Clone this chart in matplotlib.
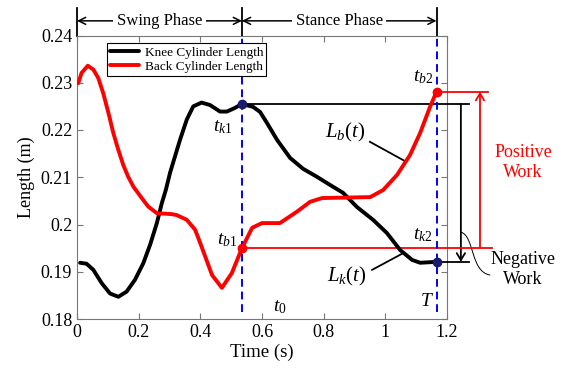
import matplotlib
matplotlib.use("Agg")
import matplotlib.pyplot as plt
from matplotlib.path import Path
from matplotlib.patches import PathPatch, FancyArrowPatch

plt.rcParams['font.family'] = ['Liberation Serif', 'DejaVu Serif']
plt.rcParams['mathtext.fontset'] = 'custom'
plt.rcParams['mathtext.rm'] = 'Liberation Serif'
plt.rcParams['mathtext.it'] = 'Liberation Serif:italic'

# Knee cylinder length (black)
knee_t = [0.010, 0.031, 0.053, 0.080, 0.107, 0.134, 0.161, 0.188, 0.215, 0.237,
          0.259, 0.275, 0.288, 0.302, 0.334, 0.356, 0.377, 0.404, 0.431, 0.464,
          0.486, 0.510, 0.535, 0.571, 0.594, 0.616, 0.649, 0.691, 0.733, 0.778,
          0.830, 0.863, 0.908, 0.960, 1.005, 1.048, 1.087, 1.113, 1.166]
knee_L = [0.1919, 0.1917, 0.1904, 0.1876, 0.1854, 0.1847, 0.1858, 0.1883, 0.1918, 0.1957,
          0.2003, 0.2045, 0.2073, 0.2110, 0.2179, 0.2222, 0.2250, 0.2258, 0.2253, 0.2239,
          0.2239, 0.2246, 0.2255, 0.2249, 0.2238, 0.2215, 0.2179, 0.2141, 0.2118, 0.2101,
          0.2080, 0.2067, 0.2037, 0.2010, 0.1982, 0.1946, 0.1925, 0.1919, 0.1921]

# Back cylinder length (red)
back_t = [0.004, 0.015, 0.035, 0.053, 0.069, 0.085, 0.102, 0.118, 0.134, 0.150,
          0.166, 0.183, 0.210, 0.231, 0.259, 0.307, 0.323, 0.356, 0.383, 0.399,
          0.438, 0.470, 0.502, 0.535, 0.568, 0.600, 0.658, 0.713, 0.756, 0.795,
          0.951, 0.993, 1.038, 1.080, 1.113, 1.145, 1.166]
back_L = [0.2299, 0.2321, 0.2336, 0.2328, 0.2310, 0.2278, 0.2236, 0.2193, 0.2158, 0.2126,
          0.2101, 0.2080, 0.2056, 0.2038, 0.2024, 0.2022, 0.2020, 0.2010, 0.1989, 0.1962,
          0.1893, 0.1866, 0.1897, 0.1950, 0.1993, 0.2003, 0.2003, 0.2027, 0.2048, 0.2056,
          0.2058, 0.2073, 0.2105, 0.2147, 0.2194, 0.2249, 0.2281]

t_switch = 0.535
t_end = 1.166
knee_hi, knee_lo = 0.2255, 0.1921
back_hi, back_lo = 0.2281, 0.1951

xticks = [0, 0.2, 0.4, 0.6, 0.8, 1.0, 1.2]
xticklabels = ['0', '0.2', '0.4', '0.6', '0.8', '1', '1.2']
yticks = [0.18, 0.19, 0.20, 0.21, 0.22, 0.23, 0.24]
yticklabels = ['0.18', '0.19', '0.2', '0.21', '0.22', '0.23', '0.24']

fig = plt.figure(figsize=(5.69, 3.68), dpi=100)
ax = fig.add_axes([77/569, 1-319/368, 370/569, 283.5/368])
ax.set_xlim(0, 1.2)
ax.set_ylim(0.18, 0.24)

ax.plot(knee_t, knee_L, color='black', lw=2.8, label='Knee Cylinder Length', zorder=4,
        solid_joinstyle='round', solid_capstyle='round')
ax.plot(back_t, back_L, color='red', lw=2.8, label='Back Cylinder Length', zorder=4,
        solid_joinstyle='round', solid_capstyle='round')

# blue dashed phase lines
for tx in (t_switch, t_end):
    ax.plot([tx, tx], [0.1815, 0.24], color='blue', lw=1.4, ls=(0, (4, 2.5)), zorder=5)

# markers
ax.plot([t_switch], [knee_hi], 'o', color='#1a1a6e', ms=6, zorder=6)
ax.plot([t_end], [knee_lo], 'o', color='#1a1a6e', ms=6, zorder=6)
ax.plot([t_switch], [back_lo], 'o', color='red', ms=6, zorder=6)
ax.plot([t_end], [back_hi], 'o', color='red', ms=6, zorder=6)

# work annotation lines
kw = dict(clip_on=False, zorder=3)
ax.plot([t_switch, 1.271], [knee_hi, knee_hi], color='black', lw=1.3, **kw)
ax.plot([t_end, 1.271], [knee_lo, knee_lo], color='black', lw=1.3, **kw)
ax.plot([t_end, 1.333], [back_hi, back_hi], color='red', lw=1.3, **kw)
ax.plot([t_switch, 1.346], [back_lo, back_lo], color='red', lw=1.3, **kw)
a1 = FancyArrowPatch((1.245, knee_hi), (1.245, knee_lo), arrowstyle='->,head_length=5,head_width=3',
                     color='black', lw=1.3, shrinkA=0, shrinkB=0, clip_on=False)
ax.add_patch(a1)
a2 = FancyArrowPatch((1.307, back_lo), (1.307, back_hi), arrowstyle='->,head_length=5,head_width=3',
                     color='red', lw=1.3, shrinkA=0, shrinkB=0, clip_on=False)
ax.add_patch(a2)

# S-shaped leader for negative work
verts = [(1.245, 0.1984), (1.29, 0.1975), (1.275, 0.1900), (1.34, 0.1893)]
sp = PathPatch(Path(verts, [Path.MOVETO, Path.CURVE4, Path.CURVE4, Path.CURVE4]),
               fill=False, color='black', lw=0.7, clip_on=False)
ax.add_patch(sp)

ax.text(1.447, 0.2131, 'Positive\nWork', color='red', ha='center', va='center',
        fontsize=13, linespacing=1.2, clip_on=False)
ax.text(1.447, 0.1905, 'Negative\nWork', color='black', ha='center', va='center',
        fontsize=13, linespacing=1.2, clip_on=False)

# leader lines for curve labels
ax.plot([0.950, 1.067], [0.2175, 0.2133], color='black', lw=1.3, zorder=3)
ax.plot([0.957, 1.054], [0.1904, 0.1938], color='black', lw=1.3, zorder=3)

fs_m = 14
ax.text(0.474, 0.2207, r'$t_{\mathit{k1}}$', fontsize=fs_m, ha='center', va='center')
ax.text(0.487, 0.1967, r'$t_{\mathit{b1}}$', fontsize=fs_m, ha='center', va='center')
ax.text(0.658, 0.1825, r'$t_{0}$', fontsize=fs_m, ha='center', va='center')
ax.text(1.122, 0.2311, r'$t_{\mathit{b2}}$', fontsize=fs_m, ha='center', va='center')
ax.text(1.122, 0.1978, r'$t_{\mathit{k2}}$', fontsize=fs_m, ha='center', va='center')
ax.text(1.135, 0.1836, r'$T$', fontsize=fs_m, ha='center', va='center')
ax.text(0.869, 0.2194, r'$L_b(t)$', fontsize=fs_m + 1, ha='center', va='center')
ax.text(0.876, 0.1889, r'$L_k(t)$', fontsize=fs_m + 1, ha='center', va='center')

# phase arrows above the axes
y_bar_top = 0.2459
y_arrow = 0.2431
for tx in (0.0, t_switch, t_end):
    ax.plot([tx, tx], [0.24, y_bar_top], color='black', lw=1.3, clip_on=False)
for (xa, xb, label) in ((0.0, t_switch, 'Swing Phase'), (t_switch, t_end, 'Stance Phase')):
    arr = FancyArrowPatch((xa, y_arrow), (xb, y_arrow), arrowstyle='<->,head_length=5,head_width=2.5',
                          color='black', lw=1.1, shrinkA=0, shrinkB=0, clip_on=False)
    ax.add_patch(arr)
    ax.text((xa + xb) / 2, y_arrow, label, fontsize=12, ha='center', va='center',
            bbox=dict(facecolor='white', edgecolor='none', pad=2.5), clip_on=False, zorder=5)

ax.set_xticks(xticks)
ax.set_xticklabels(xticklabels)
ax.set_yticks(yticks)
ax.set_yticklabels(yticklabels)
ax.tick_params(direction='in', top=True, right=True, labelsize=13, length=4,
               color='#777777', width=0.8)
for s in ax.spines.values():
    s.set_color('#777777')
    s.set_linewidth(0.8)

ax.set_xlabel('Time (s)', fontsize=13.5, labelpad=2)
ax.set_ylabel('Length (m)', fontsize=13, labelpad=4)

leg = ax.legend(loc='upper left', bbox_to_anchor=(0.081, 0.973), borderaxespad=0,
                fontsize=9.5, fancybox=False, framealpha=1, edgecolor='black',
                handlelength=2.2, handletextpad=0.4, borderpad=0.25, labelspacing=0.15)
leg.get_frame().set_linewidth(0.8)

fig.savefig('out.png', dpi=100)
